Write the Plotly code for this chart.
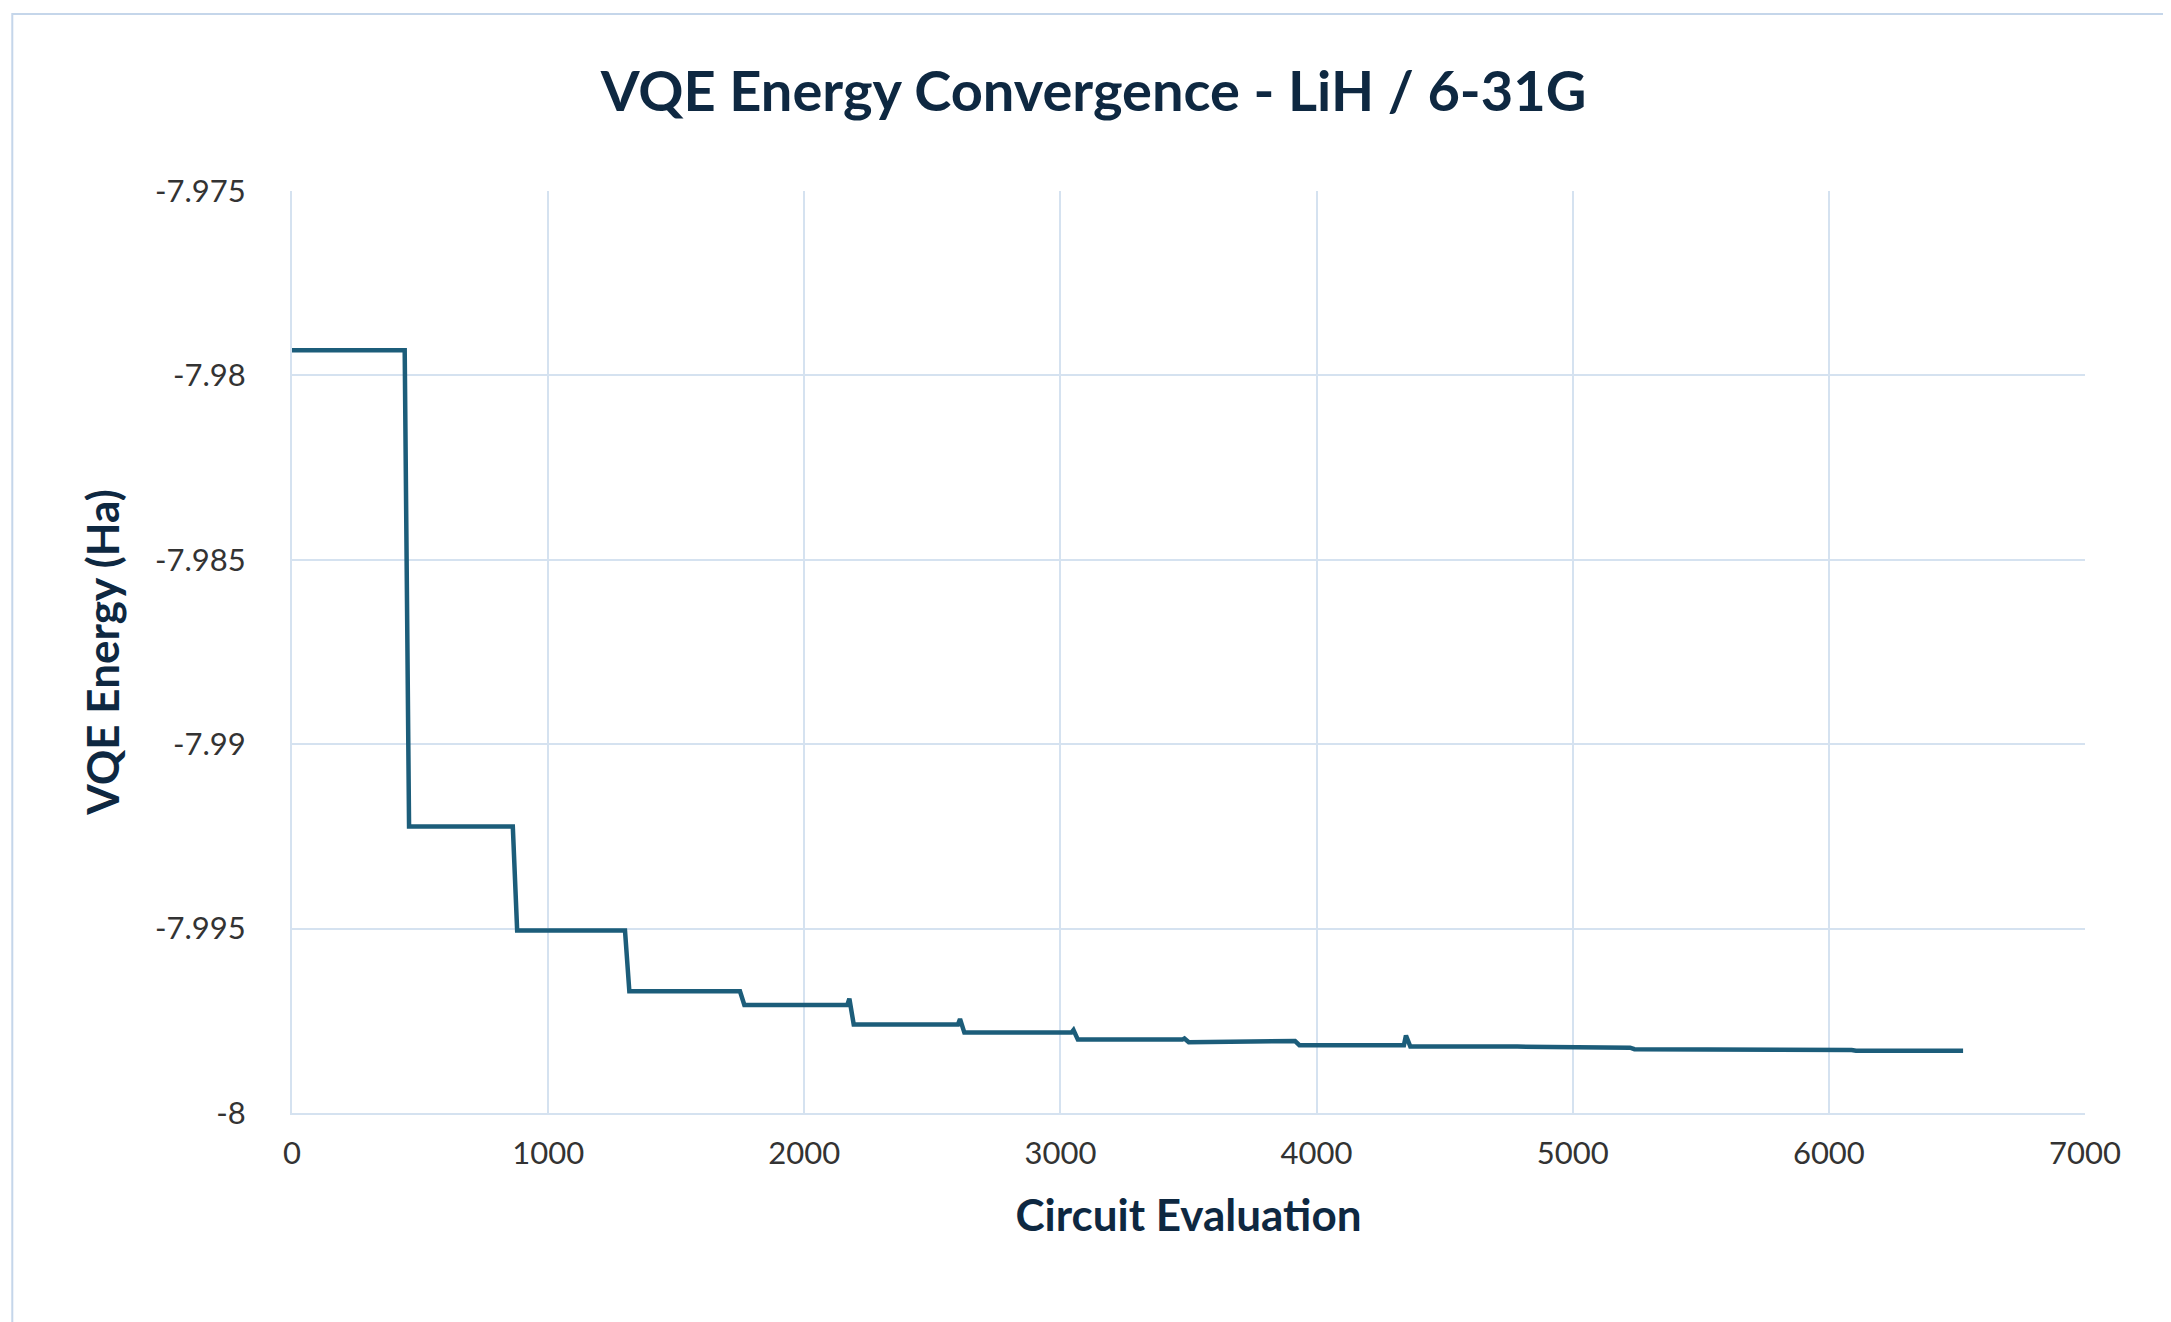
import plotly.graph_objects as go

# Data
start_energy = -7.97932
drop_evals = [432, 854, 1292, 1741, 2168, 2600, 3043, 3476, 3908, 4341, 4784, 5216, 5638, 6081]
levels = [-7.99223, -7.99505, -7.99670, -7.99707, -7.99760, -7.99782, -7.99801, -7.99808,
          -7.99816, -7.99820, -7.99823, -7.99827, -7.99829, -7.99831]
bump_energy = [-7.97932, -7.99223, -7.99505, -7.99670, -7.99690, -7.99745, -7.99775, -7.99798,
               -7.99805, -7.99790, -7.99820, -7.99823, -7.99827, -7.99829]
last_eval = 6524

xs, ys = [0], [start_energy]
prev = start_energy
for xe, lv, bp in zip(drop_evals, levels, bump_energy):
    xs += [xe, xe + 8, xe + 25]
    ys += [prev, bp, lv]
    prev = lv
xs.append(last_eval)
ys.append(prev)

fig = go.Figure(go.Scatter(x=xs, y=ys, mode="lines",
                           line=dict(color="#1c5d7a", width=4.5), hoverinfo="skip"))

grid = "#d5e2f0"
font_col = "#0e2841"
fig.update_layout(
    width=2171, height=1322,
    paper_bgcolor="white", plot_bgcolor="white",
    margin=dict(l=284, r=94, t=183, b=217),
    font=dict(family="Lato, Open Sans, sans-serif", color="#333333", size=31),
    title=dict(text="<b>VQE Energy Convergence - LiH / 6-31G</b>", x=0.5, xanchor="center",
               y=0.937, yanchor="middle", font=dict(size=56, color=font_col)),
    showlegend=False,
    xaxis=dict(range=[0, 7000], dtick=1000, showgrid=True, gridcolor=grid, gridwidth=2,
               zeroline=False, showline=True, linecolor=grid, linewidth=2,
               ticks="", ticklabelstandoff=12,
               title=dict(text="<b>Circuit Evaluation</b>", font=dict(size=44, color=font_col), standoff=30)),
    yaxis=dict(range=[-8, -7.975], showgrid=True, gridcolor=grid, gridwidth=2,
               zeroline=False, showline=True, linecolor=grid, linewidth=2,
               ticks="", ticklabelstandoff=38,
               tickvals=[-8, -7.995, -7.99, -7.985, -7.98, -7.975],
               ticktext=["-8", "-7.995", "-7.99", "-7.985", "-7.98", "-7.975"],
               title=dict(text="<b>VQE Energy (Ha)</b>", font=dict(size=44, color=font_col), standoff=22)),
    shapes=[dict(type="rect", xref="paper", yref="paper", x0=-0.156, x1=1.049, y0=-0.229, y1=1.192,
                 line=dict(color="#c5d6ea", width=2))],
)
fig.write_html("out.html")
